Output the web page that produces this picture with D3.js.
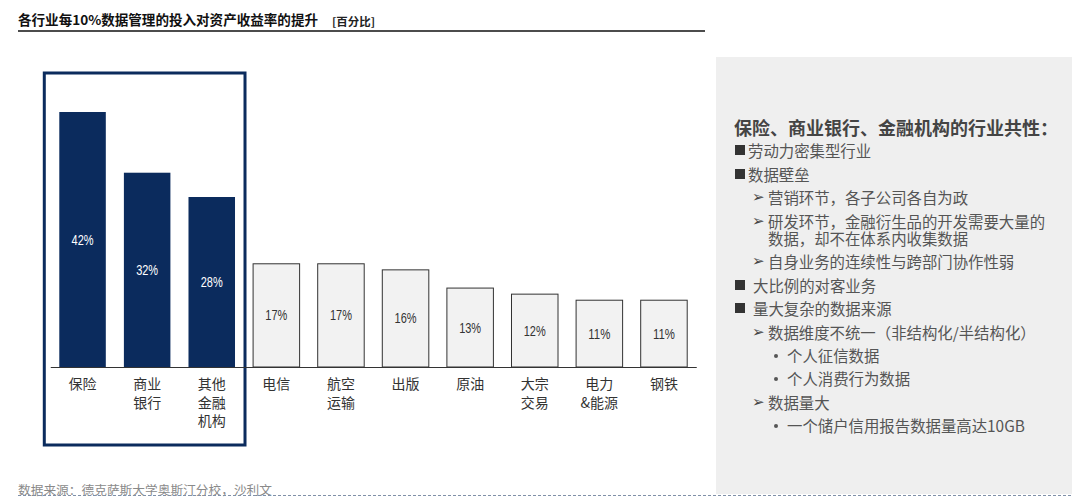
<!DOCTYPE html>
<html><head><meta charset="utf-8">
<script src="https://cdn.jsdelivr.net/npm/d3@7"></script>
<style>
body{margin:0;background:#fff;}
svg{display:block;font-family:"Noto Sans CJK SC","Noto Sans",sans-serif;}
</style></head>
<body><svg id="c" width="1086" height="502"></svg>
<script>
const categories = [["保险"],["商业","银行"],["其他","金融","机构"],["电信"],["航空","运输"],["出版"],["原油"],["大宗","交易"],["电力","&能源"],["钢铁"]];
const values = [42,32,28,17,17,16,13,12,11,11];
const highlighted = [true,true,true,false,false,false,false,false,false,false];
const title = "各行业每10%数据管理的投入对资产收益率的提升";
const unit = "[百分比]";
const source = "数据来源：德克萨斯大学奥斯汀分校，沙利文";
const panelHeading = "保险、商业银行、金融机构的行业共性：";
const panelItems = [
  {lvl:0, mark:"■", text:["劳动力密集型行业"]},
  {lvl:0, mark:"■", text:["数据壁垒"]},
  {lvl:1, mark:"➢", text:["营销环节，各子公司各自为政"]},
  {lvl:1, mark:"➢", text:["研发环节，金融衍生品的开发需要大量的","数据，却不在体系内收集数据"]},
  {lvl:1, mark:"➢", text:["自身业务的连续性与跨部门协作性弱"]},
  {lvl:0, mark:"■", text:["大比例的对客业务"], wide:true},
  {lvl:0, mark:"■", text:["量大复杂的数据来源"], wide:true},
  {lvl:1, mark:"➢", text:["数据维度不统一（非结构化/半结构化）"]},
  {lvl:2, mark:"•", text:["个人征信数据"]},
  {lvl:2, mark:"•", text:["个人消费行为数据"]},
  {lvl:1, mark:"➢", text:["数据量大"]},
  {lvl:2, mark:"•", text:["一个储户信用报告数据量高达10GB"]}
];

const NAVY = "#0b2b5d";
const svg = d3.select("#c");

// title
svg.append("text").attr("x",18).attr("y",19).attr("dominant-baseline","central")
  .attr("font-size",13.5).attr("font-weight","bold").attr("fill","#111")
  .attr("textLength",300).attr("lengthAdjust","spacingAndGlyphs").text(title);
svg.append("text").attr("x",332).attr("y",21).attr("dominant-baseline","central")
  .attr("font-size",11).attr("font-weight","bold").attr("fill","#222")
  .attr("textLength",43).attr("lengthAdjust","spacingAndGlyphs").text(unit);
svg.append("line").attr("x1",18).attr("x2",705).attr("y1",31).attr("y2",31)
  .attr("stroke","#111").attr("stroke-width",1.6);

// right panel
svg.append("rect").attr("x",716).attr("y",57).attr("width",356).attr("height",437).attr("fill","#efefef");

// scales
const idx = d3.range(values.length);
const x = d3.scaleBand().domain(idx).range([50.25,696.25]).paddingInner(0.28).paddingOuter(0.14);
const y = d3.scaleLinear().domain([0,42]).range([367,112]);
const bw = x.bandwidth();

// highlight box
const hi = idx.filter(i=>highlighted[i]);
svg.append("rect")
  .attr("x", x(hi[0]) - 15).attr("y", 73)
  .attr("width", x(hi[hi.length-1]) + bw + 10 - (x(hi[0]) - 15)).attr("height", 372)
  .attr("fill","none").attr("stroke",NAVY).attr("stroke-width",3);

// bars
const g = svg.append("g");
g.selectAll("rect.bar").data(idx).join("rect").attr("class","bar")
  .attr("x", i=>x(i)).attr("width", bw)
  .attr("y", i=>y(values[i])).attr("height", i=>y(0)-y(values[i]))
  .attr("fill", i=>highlighted[i]?NAVY:"#f2f2f2")
  .attr("stroke", i=>highlighted[i]?"none":"#333").attr("stroke-width",1);

g.selectAll("text.val").data(idx).join("text").attr("class","val")
  .attr("x", i=>x(i)+bw/2).attr("y", i=>(y(values[i])+y(0))/2)
  .attr("text-anchor","middle").attr("dominant-baseline","central")
  .attr("font-family","'Liberation Sans',Arial,sans-serif")
  .attr("font-size",14.5)
  .attr("textLength",22).attr("lengthAdjust","spacingAndGlyphs")
  .attr("fill", i=>highlighted[i]?"#fff":"#333")
  .text(i=>values[i]+"%");

// axis
const axis = d3.axisBottom(x).tickSize(0).tickFormat("");
const ag = svg.append("g").attr("transform",`translate(0,${y(0)})`).call(axis);
ag.select(".domain").attr("stroke","#333").attr("stroke-width",1.2);
ag.selectAll(".tick").each(function(i){
  const t = d3.select(this).append("text").attr("fill","#333").attr("font-size",14)
    .attr("text-anchor","middle").attr("font-family","'Noto Sans CJK SC',sans-serif");
  categories[i].forEach((line,k)=>{
    t.append("tspan").attr("x",0).attr("y",16+k*18.5).attr("dominant-baseline","central").text(line);
  });
});

// panel text
svg.append("text").attr("x",734).attr("y",127).attr("dominant-baseline","central")
  .attr("font-size",17.8).attr("font-weight","bold").attr("fill","#444")
  .attr("textLength",324).attr("lengthAdjust","spacingAndGlyphs").text(panelHeading);
const rowY = [150,174,197,221,261,285,308,332,355,378,402,425];
const lineGap = 17;
panelItems.forEach((it,i)=>{
  const yy = rowY[i];
  let mx, tx;
  if(it.lvl===0){ mx = 735; tx = it.wide?753:748; }
  else if(it.lvl===1){ mx = 752; tx = 768; }
  else { mx = 773; tx = 787; }
  if(it.mark==="■"){
    svg.append("rect").attr("x",mx).attr("y",yy-5).attr("width",10).attr("height",10).attr("fill","#333");
  } else if(it.mark==="•"){
    svg.append("circle").attr("cx",mx+3).attr("cy",yy+1).attr("r",2).attr("fill","#555");
  } else {
    svg.append("text").attr("x",mx).attr("y",yy).attr("dominant-baseline","central")
      .attr("font-family","'DejaVu Sans',sans-serif").attr("font-size",15).attr("fill","#444").text(it.mark);
  }
  it.text.forEach((line,k)=>{
    svg.append("text").attr("x",tx).attr("y",yy+k*lineGap).attr("dominant-baseline","central")
      .attr("font-size",15.4).attr("fill","#555").text(line);
  });
});

// footer
svg.append("text").attr("x",18).attr("y",489).attr("dominant-baseline","central")
  .attr("font-size",12.5).attr("fill","#8a8a8a")
  .attr("textLength",254).attr("lengthAdjust","spacingAndGlyphs").text(source);
svg.append("line").attr("x1",18).attr("x2",1072).attr("y1",495.5).attr("y2",495.5)
  .attr("stroke","#8090a8").attr("stroke-width",1).attr("stroke-dasharray","3,2");
</script></body></html>
